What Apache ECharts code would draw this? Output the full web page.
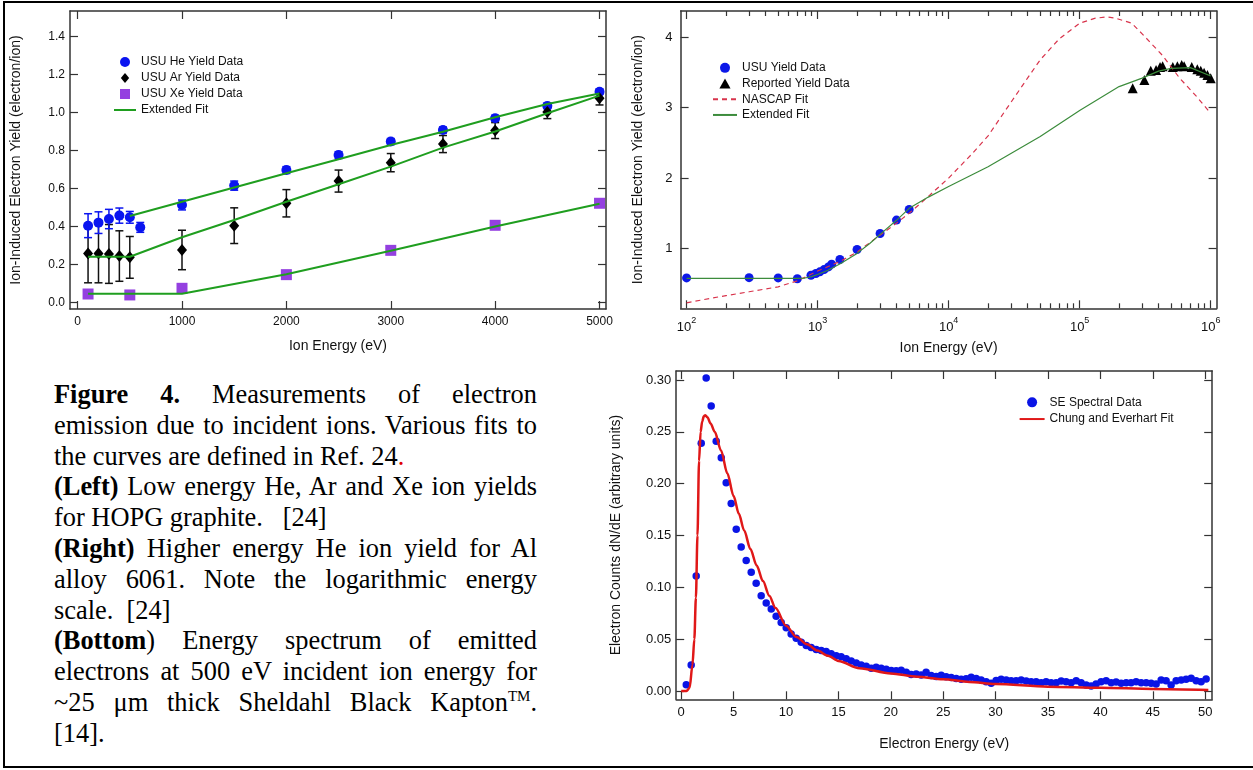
<!DOCTYPE html>
<html>
<head>
<meta charset="utf-8">
<title>Figure 4 - ion induced electron emission</title>
<script src="https://cdn.jsdelivr.net/npm/echarts@6.0.0/dist/echarts.min.js"></script>
<style>
html, body { margin: 0; padding: 0; background: #fff; }
body { width: 1253px; height: 770px; position: relative; overflow: hidden; }
.frame {
  position: absolute; left: 3px; top: 1px; width: 1250px; height: 763px;
  border-top: 2px solid #000; border-left: 2px solid #000; border-bottom: 2px solid #000;
}
.chart { position: absolute; }
#leftChart { left: 0; top: 0; width: 620px; height: 360px; }
#rightChart { left: 620px; top: 0; width: 633px; height: 360px; }
#bottomChart { left: 600px; top: 365px; width: 653px; height: 405px; }
.caption {
  position: absolute; left: 54px; top: 379px; width: 483px;
  font-family: "Liberation Serif", "Times New Roman", serif;
  font-size: 26.4px; line-height: 30.8px; color: #000;
}
.caption div { white-space: nowrap; }
.caption .j { text-align: justify; text-align-last: justify; }
.caption sup { font-size: 15px; line-height: 0; vertical-align: 10px; }
</style>
</head>
<body>
<div class="frame"></div>
<div class="chart" id="leftChart"></div>
<div class="chart" id="rightChart"></div>
<div class="chart" id="bottomChart"></div>
<div class="caption">
  <div class="j"><b>Figure 4.</b> Measurements of electron</div>
  <div class="j">emission due to incident ions. Various fits to</div>
  <div>the curves are defined in Ref. 24<span style="color:#e00000">.</span></div>
  <div class="j"><b>(Left)</b> Low energy He, Ar and Xe ion yields</div>
  <div>for HOPG graphite.&nbsp;&nbsp; [24]</div>
  <div class="j"><b>(Right)</b> Higher energy He ion yield for Al</div>
  <div class="j">alloy 6061. Note the logarithmic energy</div>
  <div>scale.&nbsp; [24]</div>
  <div class="j"><b>(Bottom</b>) Energy spectrum of emitted</div>
  <div class="j">electrons at 500 eV incident ion energy for</div>
  <div class="j">~25 μm thick Sheldahl Black Kapton<sup>TM</sup>.</div>
  <div>[14].</div>
</div>

<script>
// ---------- left: low energy yields (HOPG graphite) ----------
const heEnergy = [100, 200, 300, 400, 500, 600, 1000, 1500, 2000, 2500, 3000, 3500, 4000, 4500, 5000]
const heYield = [0.404, 0.42, 0.439, 0.457, 0.448, 0.395, 0.513, 0.615, 0.697, 0.776, 0.847, 0.908, 0.97, 1.035, 1.11]
const heErr = [0.063, 0.057, 0.051, 0.04, 0.031, 0.026, 0.026, 0.024, 0.018, 0.018, 0.016, 0.016, 0.016, 0.014, 0.014]

const arEnergy = [100, 200, 300, 400, 500, 1000, 1500, 2000, 2500, 3000, 3500, 4000, 4500, 5000]
const arYield = [0.258, 0.258, 0.255, 0.244, 0.237, 0.276, 0.404, 0.522, 0.639, 0.736, 0.834, 0.905, 1.003, 1.075]
const arErr = [0.155, 0.155, 0.155, 0.133, 0.11, 0.104, 0.094, 0.072, 0.058, 0.048, 0.045, 0.042, 0.035, 0.035]

const xeEnergy = [100, 500, 1000, 2000, 3000, 4000, 5000]
const xeYield = [0.044, 0.039, 0.074, 0.146, 0.274, 0.406, 0.522]

const heFitEnergy = [500, 1000, 1500, 2000, 2500, 3000, 3500, 4000, 4500, 5000]
const heFitYield = [0.455, 0.53, 0.605, 0.68, 0.754, 0.829, 0.899, 0.975, 1.045, 1.1]
const arFitEnergy = [100, 500, 1000, 1500, 2000, 2500, 3000, 3500, 4000, 4500, 5000]
const arFitYield = [0.24, 0.24, 0.343, 0.434, 0.53, 0.622, 0.715, 0.815, 0.9, 0.996, 1.089]
const xeFitEnergy = [100, 1000, 1500, 2000, 3000, 4000, 5000]
const xeFitYield = [0.045, 0.045, 0.097, 0.148, 0.272, 0.4, 0.52]

const leftXTicks = [0, 1000, 2000, 3000, 4000, 5000]
const leftYTicks = [0, 0.2, 0.4, 0.6, 0.8, 1.0, 1.2, 1.4]

// ---------- right: higher energy He on Al 6061 (log energy) ----------
const usuEnergy = [100, 300, 500, 700, 890, 970, 1040, 1120, 1210, 1280, 1480, 2000, 3000, 4000, 5000]
const usuYield = [0.582, 0.585, 0.582, 0.57, 0.62, 0.645, 0.668, 0.7, 0.738, 0.777, 0.843, 0.986, 1.213, 1.403, 1.555]

const reportedEnergy = [254000, 312000, 349000, 383000, 411000, 430000, 514000, 557000, 601000, 627000, 717000, 791000, 840000, 891000, 945000, 1000000]
const reportedYield = [3.275, 3.393, 3.525, 3.535, 3.58, 3.59, 3.58, 3.59, 3.606, 3.59, 3.58, 3.545, 3.525, 3.497, 3.464, 3.417]

const nascapEnergy = [100, 150, 200, 300, 500, 700, 1000, 1500, 2000, 3000, 4000, 5000, 7000, 10000, 15000, 20000, 30000, 40000, 50000, 70000, 100000, 130000, 160000, 190000, 250000, 300000, 430000, 580000, 780000, 950000, 1000000]
const nascapYield = [0.227, 0.29, 0.33, 0.385, 0.455, 0.54, 0.68, 0.82, 0.95, 1.19, 1.36, 1.5, 1.74, 2.0, 2.34, 2.6, 3.08, 3.42, 3.68, 3.98, 4.2, 4.27, 4.29, 4.27, 4.2, 4.05, 3.74, 3.42, 3.16, 2.97, 2.92]

const extFitEnergy = [100, 200, 500, 700, 800, 900, 1000, 1200, 1500, 2000, 2500, 3000, 4000, 5000, 7000, 10000, 20000, 50000, 100000, 200000, 300000, 400000, 500000, 700000, 1000000]
const extFitYield = [0.575, 0.575, 0.575, 0.575, 0.58, 0.6, 0.63, 0.69, 0.787, 0.93, 1.07, 1.2, 1.4, 1.57, 1.73, 1.88, 2.16, 2.59, 2.96, 3.3, 3.42, 3.52, 3.56, 3.57, 3.45]

const logMajorTicks = [100, 1000, 10000, 100000, 1000000]
const logMinorTicks = [
  200, 300, 400, 500, 600, 700, 800, 900,
  2000, 3000, 4000, 5000, 6000, 7000, 8000, 9000,
  20000, 30000, 40000, 50000, 60000, 70000, 80000, 90000,
  200000, 300000, 400000, 500000, 600000, 700000, 800000, 900000
]
const rightYTicks = [1, 2, 3, 4]

// ---------- bottom: SE spectrum, 500 eV ions on black Kapton ----------
const seEnergy = [
  0.48, 0.95, 1.43, 1.91, 2.38, 2.86, 3.34, 3.82, 4.29, 4.77,
  5.25, 5.72, 6.2, 6.68, 7.15, 7.63, 8.11, 8.59, 9.06, 9.54,
  10.02, 10.49, 10.97, 11.45, 11.93, 12.4, 12.88, 13.36, 13.83, 14.31,
  14.79, 15.26, 15.74, 16.22, 16.7, 17.17, 17.65, 18.13, 18.6, 19.08,
  19.56, 20.04, 20.51, 20.99, 21.47, 21.94, 22.42, 22.9, 23.37, 23.85,
  24.33, 24.81, 25.28, 25.76, 26.24, 26.71, 27.19, 27.67, 28.15, 28.62,
  29.1, 29.58, 30.05, 30.53, 31.01, 31.48, 31.96, 32.44, 32.92, 33.39,
  33.87, 34.35, 34.82, 35.3, 35.78, 36.26, 36.73, 37.21, 37.69, 38.16,
  38.64, 39.12, 39.59, 40.07, 40.55, 41.03, 41.5, 41.98, 42.46, 42.93,
  43.41, 43.89, 44.37, 44.84, 45.32, 45.8, 46.27, 46.75, 47.23, 47.71,
  48.18, 48.66, 49.14, 49.61, 50.09
]
const seCounts = [
  0.006, 0.025, 0.111, 0.239, 0.302, 0.275, 0.241, 0.225, 0.201, 0.181,
  0.156, 0.139, 0.126, 0.1145, 0.104, 0.092, 0.085, 0.079, 0.072, 0.066,
  0.061, 0.055, 0.051, 0.047, 0.044, 0.042, 0.04, 0.039, 0.038, 0.036,
  0.034, 0.033, 0.031, 0.029, 0.027, 0.025, 0.024, 0.022, 0.023, 0.022,
  0.021, 0.0198, 0.0196, 0.02, 0.018, 0.016, 0.0165, 0.0155, 0.018, 0.015,
  0.014, 0.0152, 0.0138, 0.013, 0.012, 0.0113, 0.0118, 0.0132, 0.012, 0.0105,
  0.009, 0.0075, 0.0102, 0.0113, 0.0106, 0.01, 0.01, 0.0106, 0.0096, 0.009,
  0.009, 0.008, 0.009, 0.008, 0.008, 0.0096, 0.009, 0.008, 0.01, 0.008,
  0.0058, 0.0048, 0.0067, 0.009, 0.01, 0.008, 0.0087, 0.0074, 0.008, 0.008,
  0.009, 0.008, 0.008, 0.0074, 0.0067, 0.0106, 0.01, 0.0058, 0.01, 0.0106,
  0.0113, 0.0122, 0.01, 0.009, 0.0115
]
const ceFitEnergy = [0, 0.5, 0.8, 1.07, 1.25, 1.4, 1.55, 1.7, 1.85, 2.0, 2.15, 2.3, 2.5, 2.8, 3.2, 3.8, 4.4, 5.0, 5.5, 6.0, 6.6, 7.2, 7.8, 8.4, 9.0, 10, 11, 12, 13, 14, 15, 17, 20, 22.5, 25, 27.5, 30, 35, 40, 45, 50.3]
const ceFitCounts = [0, 0, 0.003, 0.025, 0.05, 0.09, 0.15, 0.222, 0.25, 0.26, 0.265, 0.266, 0.264, 0.258, 0.25, 0.232, 0.21, 0.188, 0.171, 0.155, 0.137, 0.121, 0.106, 0.092, 0.08, 0.063, 0.052, 0.045, 0.039, 0.034, 0.029, 0.022, 0.017, 0.0138, 0.0113, 0.0088, 0.0068, 0.0042, 0.0032, 0.002, 0.001]
const spectrumXTicks = [0, 5, 10, 15, 20, 25, 30, 35, 40, 45, 50]
const spectrumYTicks = [0, 0.05, 0.1, 0.15, 0.2, 0.25, 0.3]

const FONT = '"Liberation Sans", Arial, sans-serif'
const pairs = (xs, ys) => xs.map((x, i) => [x, ys[i]])

// legend marker shapes (paths keep their aspect inside the legend box)
const ICON_SQUARE = 'path://M0,0L10,0L10,10L0,10Z'
const ICON_DIAMOND = 'path://M5,0L10,6L5,12L0,6Z'
const ICON_TRIANGLE = 'path://M5,0L10,9L0,9Z'
// line-only legend entry: hide the marker that the line legend adds
const lineOnly = (name) => ({ name, itemStyle: { opacity: 0 } })

// one side of the plot box: axis line, inward ticks, optional labels/name
function boxAxis(o) {
  return {
    type: o.type || 'value',
    logBase: 10,
    position: o.position,
    offset: 0,
    min: o.min,
    max: o.max,
    name: o.name || '',
    nameLocation: 'middle',
    nameGap: o.nameGap || 30,
    nameMoveOverlap: false,
    nameTextStyle: { fontFamily: FONT, fontSize: 14, color: '#111' },
    axisLine: { show: o.line !== false, onZero: false, lineStyle: { color: '#333', width: 1.5 } },
    axisTick: {
      show: true,
      inside: true,
      length: o.tickLength || 8,
      customValues: o.ticks,
      lineStyle: { color: '#333', width: 1.2 }
    },
    axisLabel: {
      show: !!o.labels,
      customValues: o.ticks,
      margin: o.margin || 6,
      fontFamily: FONT,
      fontSize: o.fontSize || 12,
      color: '#111',
      formatter: o.formatter || ((v) => String(v)),
      rich: o.rich
    },
    splitLine: { show: false },
    minorTick: { show: false }
  }
}

function legendBlock(left, top, rowHeight, itemWidth, names) {
  return {
    orient: 'vertical',
    left: left,
    top: top,
    padding: 0,
    itemGap: 0,
    itemWidth: itemWidth,
    itemHeight: 10,
    symbolKeepAspect: true,
    selectedMode: false,
    textStyle: { fontFamily: FONT, fontSize: 12, color: '#111', lineHeight: rowHeight },
    data: names
  }
}

// vertical error bar with small caps
function errorBar(color) {
  return (params, api) => {
    const lo = api.coord([api.value(0), api.value(1)])
    const hi = api.coord([api.value(0), api.value(2)])
    const cap = 4
    const style = { stroke: color, lineWidth: 1.5 }
    return {
      type: 'group',
      children: [
        { type: 'line', shape: { x1: lo[0], y1: lo[1], x2: hi[0], y2: hi[1] }, style },
        { type: 'line', shape: { x1: lo[0] - cap, y1: lo[1], x2: lo[0] + cap, y2: lo[1] }, style },
        { type: 'line', shape: { x1: hi[0] - cap, y1: hi[1], x2: hi[0] + cap, y2: hi[1] }, style }
      ]
    }
  }
}

const GREEN = '#1f9e1f'
const BLUE = '#0a14f0'
const PURPLE = '#9440e0'

// ---------------- left chart ----------------
const leftChart = echarts.init(document.getElementById('leftChart'))
const leftX = { min: -73, max: 5062, ticks: leftXTicks }
const leftY = { min: -0.035, max: 1.535, ticks: leftYTicks }
leftChart.setOption({
  animation: false,
  grid: { left: 70, top: 11, width: 536, height: 298, outerBoundsMode: 'none' },
  legend: legendBlock(113, 54, 16, 22, [
    { name: 'USU He Yield Data', icon: 'circle' },
    { name: 'USU Ar Yield Data', icon: ICON_DIAMOND },
    { name: 'USU Xe Yield Data', icon: ICON_SQUARE },
    lineOnly('Extended Fit')
  ]),
  xAxis: [
    boxAxis({ ...leftX, position: 'bottom', labels: true, margin: 7, name: 'Ion Energy (eV)', nameGap: 30 }),
    boxAxis({ ...leftX, position: 'top' })
  ],
  yAxis: [
    boxAxis({ ...leftY, position: 'left', labels: true, margin: 5, name: 'Ion-Induced Electron Yield (electron/ion)', nameGap: 47,
      formatter: (v) => v.toFixed(1) }),
    boxAxis({ ...leftY, position: 'right' })
  ],
  series: [
    { name: 'Extended Fit', type: 'line', symbol: 'none', data: pairs(heFitEnergy, heFitYield),
      lineStyle: { color: GREEN, width: 2 }, itemStyle: { color: GREEN } },
    { name: 'Extended Fit', type: 'line', symbol: 'none', data: pairs(arFitEnergy, arFitYield),
      lineStyle: { color: GREEN, width: 2 }, itemStyle: { color: GREEN } },
    { name: 'Extended Fit', type: 'line', symbol: 'none', data: pairs(xeFitEnergy, xeFitYield),
      lineStyle: { color: GREEN, width: 2 }, itemStyle: { color: GREEN } },
    { type: 'custom', renderItem: errorBar('#111'),
      data: arEnergy.map((e, i) => [e, arYield[i] - arErr[i], arYield[i] + arErr[i]]) },
    { type: 'custom', renderItem: errorBar(BLUE),
      data: heEnergy.map((e, i) => [e, heYield[i] - heErr[i], heYield[i] + heErr[i]]) },
    { name: 'USU He Yield Data', type: 'scatter', symbol: 'circle', symbolSize: 10,
      data: pairs(heEnergy, heYield), itemStyle: { color: BLUE, opacity: 1 } },
    { name: 'USU Ar Yield Data', type: 'scatter', symbol: 'diamond', symbolSize: [10, 12],
      data: pairs(arEnergy, arYield), itemStyle: { color: '#000', opacity: 1 } },
    { name: 'USU Xe Yield Data', type: 'scatter', symbol: 'rect', symbolSize: 11,
      data: pairs(xeEnergy, xeYield), itemStyle: { color: PURPLE, opacity: 1 } }
  ]
})

// ---------------- right chart ----------------
const rightChart = echarts.init(document.getElementById('rightChart'))
const rightX = { type: 'log', min: 90, max: 1110000 }
const rightY = { min: 0.15, max: 4.374, ticks: rightYTicks }
const logLabel = (v) => '{b|10}{s|' + Math.round(Math.log10(v)) + '}'
const logRich = {
  b: { fontFamily: FONT, fontSize: 13, color: '#111', lineHeight: 18, verticalAlign: 'bottom' },
  s: { fontFamily: FONT, fontSize: 9, color: '#111', lineHeight: 10, verticalAlign: 'top' }
}
rightChart.setOption({
  animation: false,
  grid: { left: 60.6, top: 11, width: 536, height: 297.3, outerBoundsMode: 'none' },
  legend: legendBlock(92, 60, 15.7, 24, [
    { name: 'USU Yield Data', icon: 'circle' },
    { name: 'Reported Yield Data', icon: ICON_TRIANGLE },
    lineOnly('NASCAP Fit'),
    lineOnly('Extended Fit')
  ]),
  xAxis: [
    boxAxis({ ...rightX, ticks: logMajorTicks, position: 'bottom', labels: true, margin: 8, tickLength: 8,
      formatter: logLabel, rich: logRich, name: 'Ion Energy (eV)', nameGap: 33 }),
    boxAxis({ ...rightX, ticks: logMinorTicks, position: 'bottom', line: false, tickLength: 5 }),
    boxAxis({ ...rightX, ticks: logMajorTicks, position: 'top', tickLength: 8 }),
    boxAxis({ ...rightX, ticks: logMinorTicks, position: 'top', line: false, tickLength: 5 })
  ],
  yAxis: [
    boxAxis({ ...rightY, position: 'left', labels: true, margin: 8, fontSize: 13,
      name: 'Ion-Induced Electron Yield (electron/ion)', nameGap: 35 }),
    boxAxis({ ...rightY, position: 'right' })
  ],
  series: [
    { name: 'NASCAP Fit', type: 'line', symbol: 'none',
      data: pairs(nascapEnergy, nascapYield),
      lineStyle: { color: '#d8344c', width: 1.2, type: [5, 4] }, itemStyle: { color: '#d8344c' } },
    { name: 'Extended Fit', type: 'line', symbol: 'none',
      data: pairs(extFitEnergy, extFitYield),
      lineStyle: { color: '#3c8c3c', width: 1.2 }, itemStyle: { color: '#3c8c3c' } },
    { name: 'USU Yield Data', type: 'scatter', symbol: 'circle', symbolSize: 9,
      data: pairs(usuEnergy, usuYield), itemStyle: { color: '#0c18e8', opacity: 1 } },
    { name: 'Reported Yield Data', type: 'scatter', symbol: 'triangle', symbolSize: 10,
      data: pairs(reportedEnergy, reportedYield), itemStyle: { color: '#000', opacity: 1 } }
  ]
})

// ---------------- bottom chart ----------------
const bottomChart = echarts.init(document.getElementById('bottomChart'))
const spX = { min: -0.48, max: 50.67, ticks: spectrumXTicks }
const spY = { min: -0.008, max: 0.3087, ticks: spectrumYTicks }
bottomChart.setOption({
  animation: false,
  grid: { left: 76.2, top: 6, width: 536, height: 328.3, outerBoundsMode: 'none' },
  legend: legendBlock(418.6, 29, 16.7, 25, [
    { name: 'SE Spectral Data', icon: 'circle' },
    lineOnly('Chung and Everhart Fit')
  ]),
  xAxis: [
    boxAxis({ ...spX, position: 'bottom', labels: true, margin: 7, fontSize: 13,
      name: 'Electron Energy (eV)', nameGap: 38 }),
    boxAxis({ ...spX, position: 'top' })
  ],
  yAxis: [
    boxAxis({ ...spY, position: 'left', labels: true, margin: 5, fontSize: 13,
      name: 'Electron Counts dN/dE (arbitrary units)', nameGap: 53, formatter: (v) => v.toFixed(2) }),
    boxAxis({ ...spY, position: 'right' })
  ],
  series: [
    { name: 'SE Spectral Data', type: 'scatter', symbol: 'circle', symbolSize: 7.5,
      data: pairs(seEnergy, seCounts), itemStyle: { color: '#0a14e6', opacity: 1 } },
    { name: 'Chung and Everhart Fit', type: 'line', symbol: 'none', smooth: 0.3, smoothMonotone: 'x',
      data: pairs(ceFitEnergy, ceFitCounts),
      lineStyle: { color: '#e01818', width: 2.5 }, itemStyle: { color: '#e01818' } }
  ]
})
</script>
</body>
</html>
